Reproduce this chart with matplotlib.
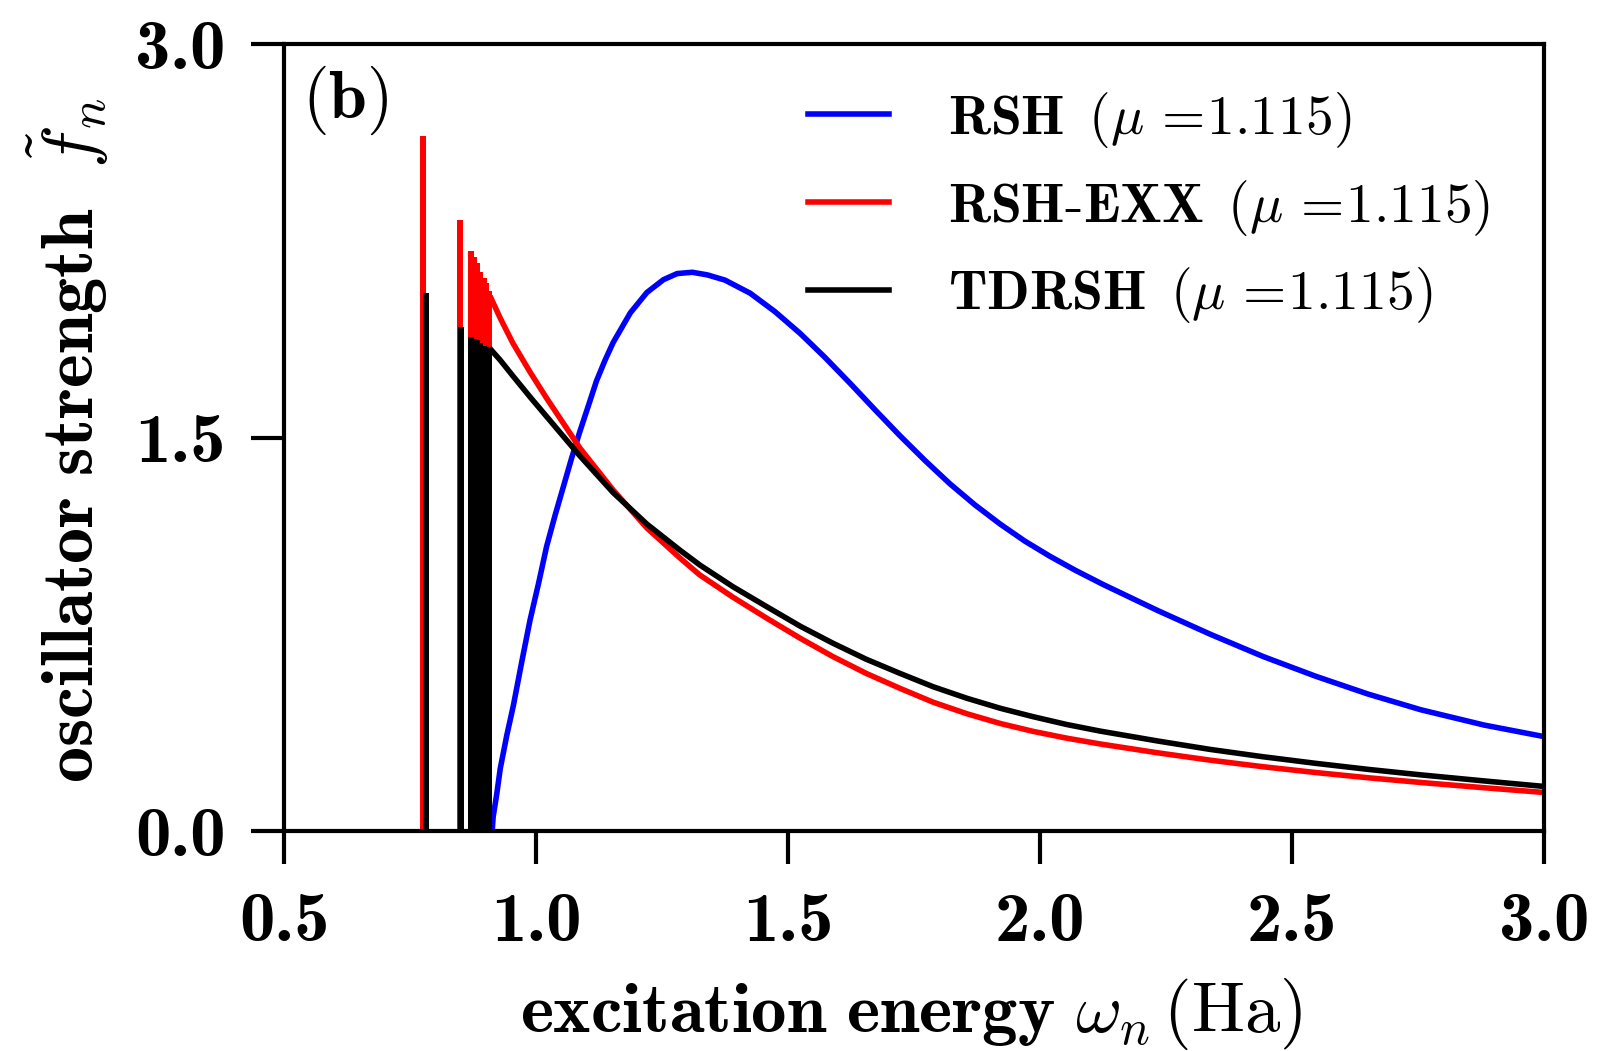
import matplotlib
matplotlib.use('Agg')
import matplotlib.pyplot as plt
from matplotlib.ticker import FixedLocator, FormatStrFormatter

plt.rcParams['mathtext.fontset'] = 'cm'
plt.rcParams['font.family'] = 'DejaVu Serif'

# discrete (bound) transitions, drawn as sticks
rshexx_stick_x = [0.776, 0.849, 0.871, 0.877, 0.883, 0.889, 0.897, 0.901, 0.907]
rshexx_stick_f = [2.65, 2.33, 2.21, 2.19, 2.165, 2.13, 2.11, 2.09, 2.06]
tdrsh_stick_x = [0.782, 0.851, 0.871, 0.877, 0.883, 0.889, 0.897, 0.901, 0.907]
tdrsh_stick_f = [2.05, 1.92, 1.885, 1.875, 1.87, 1.86, 1.85, 1.845, 1.84]

# continuum oscillator strength
rsh_x = [0.913, 0.915, 0.922, 0.929, 0.942, 0.955, 0.972, 0.988, 1.005, 1.021,
         1.038, 1.054, 1.071, 1.087, 1.104, 1.120, 1.137, 1.153, 1.187, 1.22,
         1.253, 1.28, 1.31, 1.34, 1.375, 1.425, 1.474, 1.524, 1.573, 1.623,
         1.673, 1.722, 1.772, 1.821, 1.871, 1.921, 1.970, 2.020, 2.069, 2.125,
         2.234, 2.338, 2.443, 2.547, 2.651, 2.756, 2.881, 3.0]
rsh_f = [0.0, 0.055, 0.14, 0.238, 0.365, 0.478, 0.648, 0.803, 0.944, 1.085,
         1.205, 1.311, 1.424, 1.523, 1.622, 1.716, 1.795, 1.862, 1.975, 2.053,
         2.102, 2.125, 2.13, 2.12, 2.10, 2.05, 1.98, 1.897, 1.806, 1.707,
         1.605, 1.507, 1.412, 1.324, 1.243, 1.17, 1.105, 1.047, 0.995, 0.94,
         0.84, 0.75, 0.665, 0.59, 0.522, 0.462, 0.404, 0.36]

cont_x = [0.911, 0.929, 0.954, 0.988, 1.021, 1.054, 1.087, 1.153, 1.22, 1.286,
          1.325, 1.391, 1.458, 1.524, 1.589, 1.655, 1.722, 1.788, 1.855, 1.921,
          1.986, 2.053, 2.119, 2.234, 2.338, 2.443, 2.547, 2.651, 2.756, 2.881,
          3.0]
rshexx_f = [2.03, 1.955, 1.86, 1.75, 1.65, 1.555, 1.46, 1.30, 1.155, 1.04,
            0.976, 0.891, 0.811, 0.735, 0.665, 0.601, 0.544, 0.491, 0.447, 0.41,
            0.38, 0.354, 0.332, 0.298, 0.27, 0.245, 0.223, 0.203, 0.185, 0.165,
            0.147]
tdrsh_f = [1.834, 1.795, 1.735, 1.655, 1.58, 1.505, 1.43, 1.29, 1.17, 1.07,
           1.014, 0.931, 0.855, 0.781, 0.716, 0.655, 0.601, 0.550, 0.506, 0.468,
           0.436, 0.406, 0.381, 0.343, 0.311, 0.283, 0.258, 0.235, 0.214, 0.191,
           0.17]

labels = [r'$\mathbf{RSH}\ \,(\mu\,=\!1.115)$',
          r'$\mathbf{RSH\text{-}EXX}\ \,(\mu\,=\!1.115)$',
          r'$\mathbf{TDRSH}\ \,(\mu\,=\!1.115)$']
x_ticks = [0.5, 1.0, 1.5, 2.0, 2.5, 3.0]
y_ticks = [0.0, 1.5, 3.0]

lw = 4.0

fig = plt.figure(figsize=(16.02, 10.51), dpi=100)
ax = fig.add_axes([0.1773, 0.2093, 0.7865, 0.7488])

ax.plot(rsh_x, rsh_f, color='blue', lw=lw, label=labels[0])
ax.vlines(rshexx_stick_x, 0, rshexx_stick_f, color='red', lw=4.3)
ax.plot(cont_x, rshexx_f, color='red', lw=lw, label=labels[1])
ax.vlines(tdrsh_stick_x, 0, tdrsh_stick_f, color='black', lw=4.3)
ax.plot(cont_x, tdrsh_f, color='black', lw=lw, label=labels[2])

ax.set_xlim(0.5, 3.0)
ax.set_ylim(0.0, 3.0)
ax.xaxis.set_major_locator(FixedLocator(x_ticks))
ax.yaxis.set_major_locator(FixedLocator(y_ticks))
ax.xaxis.set_major_formatter(FormatStrFormatter('%.1f'))
ax.yaxis.set_major_formatter(FormatStrFormatter('%.1f'))
ax.tick_params(axis='x', direction='out', length=24, width=3, pad=20,
               labelsize=51, labelfontfamily='cmb10')
ax.tick_params(axis='y', direction='out', length=24, width=3, pad=18,
               labelsize=51, labelfontfamily='cmb10')
for s in ax.spines.values():
    s.set_linewidth(3)

ax.set_xlabel(r'$\mathbf{excitation\ energy}\ \omega_n\,(\mathrm{Ha})$', fontsize=51)
ax.xaxis.set_label_coords(0.498, -0.184)
ax.set_ylabel(r'$\mathbf{oscillator\ strength}\ \ \tilde{f}_n$', fontsize=52)
ax.yaxis.set_label_coords(-0.137, 0.497)

ax.text(0.014, 0.975, r'$(\mathbf{b})$', transform=ax.transAxes, fontsize=49,
        ha='left', va='top')

ax.legend(loc='upper left', bbox_to_anchor=(0.398, 0.97), frameon=False,
          fontsize=40, handlelength=1.47, handletextpad=1.05, labelspacing=0.5,
          borderaxespad=0)

fig.savefig('out.png', dpi=100)
